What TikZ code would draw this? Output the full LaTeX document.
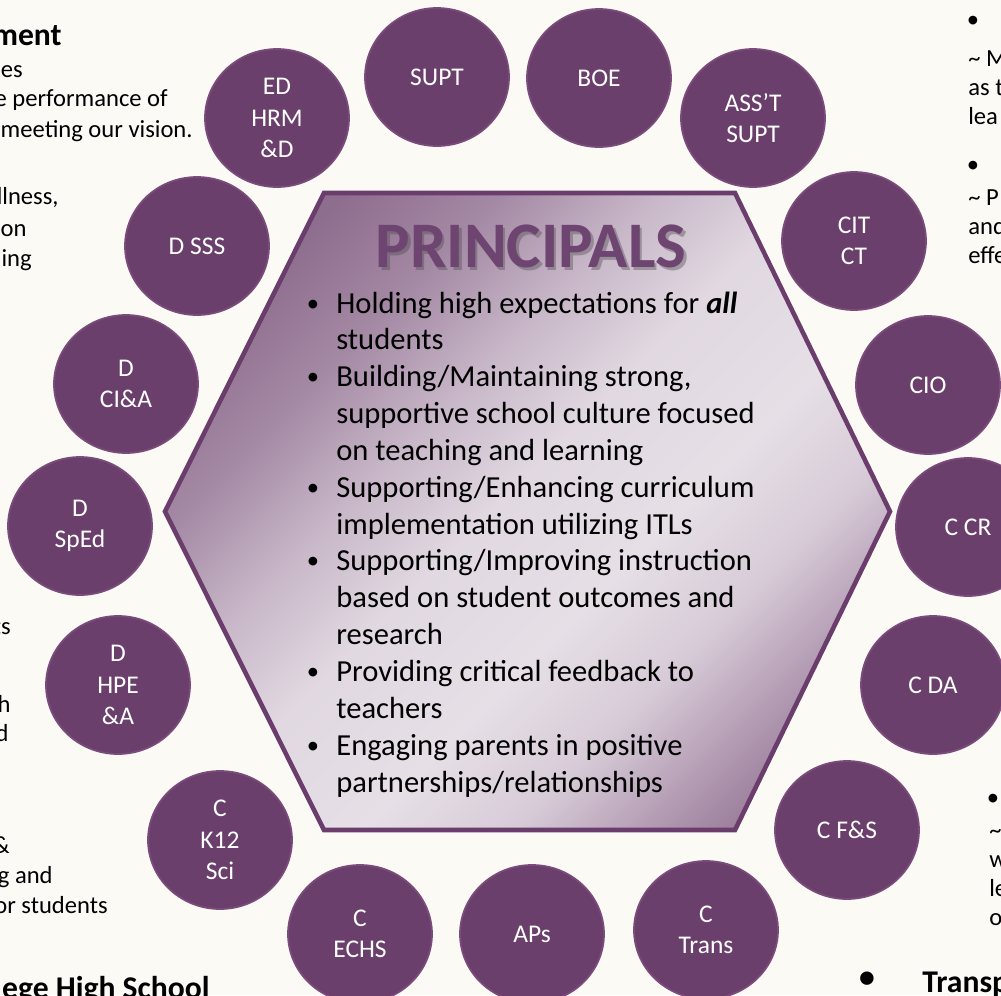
\documentclass[tikz,border=0pt]{standalone}
\usepackage{fontspec}
\setmainfont{Carlito}
\usetikzlibrary{shapes.geometric}

\definecolor{bgcream}{HTML}{FCFAF5}
\definecolor{deptfill}{HTML}{6B3F6C}
\definecolor{deptedge}{HTML}{7A4B7B}
\definecolor{hexedge}{HTML}{6A3D6C}
\definecolor{hexdark}{HTML}{8E6E8E}
\definecolor{hexmid}{HTML}{B29AB2}
\definecolor{hexlight}{HTML}{E6DFE6}
\definecolor{titlepurple}{HTML}{6E4570}

\pgfdeclareverticalshading{hexshade}{100bp}{color(0bp)=(hexdark); color(20bp)=(hexdark); color(27bp)=(hexmid); color(34bp)=(hexlight!70!hexmid); color(42bp)=(hexlight); color(52bp)=(hexlight!90!hexmid); color(60bp)=(hexlight!40!hexmid); color(68bp)=(hexmid!60!hexdark); color(76bp)=(hexdark); color(100bp)=(hexdark)}

\tikzset{
  dept/.style={ellipse, fill=deptfill, draw=deptedge, line width=1pt,
    minimum width=2.88cm, minimum height=2.76cm, inner sep=0pt,
    align=center, text=white, font=\fontsize{14.5}{17.9}\selectfont},
  title/.style={inner sep=0pt, text=titlepurple, font=\fontsize{37}{40}\selectfont\bfseries},
  bodytext/.style={anchor=base west, inner sep=0pt, font=\fontsize{17.4}{20.9}\selectfont},
  dot/.style={anchor=base, inner sep=0pt, font=\fontsize{14}{17}\selectfont},
  sidetext/.style={inner sep=0pt, font=\fontsize{14}{17}\selectfont},
  sidehead/.style={inner sep=0pt, font=\fontsize{18}{21}\selectfont\bfseries},
}

\begin{document}
\begin{tikzpicture}[x=0.02cm, y=-0.02cm]
\useasboundingbox (0,0) rectangle (1001,995);
\clip (0,0) rectangle (1001,995);
\fill[bgcream] (0,0) rectangle (1001,995);

% centre hexagon
\shadedraw[shading=hexshade, shading angle=45, draw=hexedge, line width=2.6pt]
  (324,193) -- (735,193) -- (890,511.5) -- (735,830) -- (324,830) -- (165,511.5) -- cycle;

\node[title, text=black!70, opacity=.4] (titleshadow) at (533.5,249.5) {PRINCIPALS};
\node[title] (title) at (531,246) {PRINCIPALS};

\foreach \txt [count=\i] in {{Holding high expectations for \textbf{\textit{all}}}, students,
    {Building/Maintaining strong,}, supportive school culture focused, on teaching and learning,
    Supporting/Enhancing curriculum, implementation utilizing ITLs,
    Supporting/Improving instruction, based on student outcomes and, research,
    Providing critical feedback to, teachers,
    Engaging parents in positive, partnerships/relationships}
  \node[bodytext] (line\i) at (336, {313+(\i-1)*36.85}) {\txt};
\foreach \i in {1,3,6,8,11,13}
  \node[dot] (dot\i) at (313, {311+(\i-1)*36.85}) {\textbullet};

% ring of departments
\node[dept] (supt) at (437,77) {SUPT};
\node[dept] (boe) at (599,78) {BOE};
\node[dept] (asst) at (753,118) {ASS’T\\SUPT};
\node[dept] (citct) at (854,241) {CIT\\CT};
\node[dept] (cio) at (928,385) {CIO};
\node[dept] (ccr) at (968,527) {C CR};
\node[dept] (cda) at (933,685) {C DA};
\node[dept] (cfs) at (847,830) {C F\&S};
\node[dept] (ctrans) at (706,930) {C\\Trans};
\node[dept] (aps) at (532,934) {APs};
\node[dept] (cechs) at (360,934) {C\\ECHS};
\node[dept] (ck12) at (220,840) {C\\K12\\Sci};
\node[dept] (dhpe) at (118,685) {D\\HPE\\\&A};
\node[dept] (dsped) at (80,526) {D\\SpEd};
\node[dept] (dcia) at (126,384) {D\\CI\&A};
\node[dept] (dsss) at (197,246) {D SSS};
\node[dept] (edhrm) at (277,118) {ED\\HRM\\\&D};

% text running off the left edge
\node[sidehead, anchor=base east] (lhead) at (62,45) {ment};
\node[sidetext, anchor=base east] (l1) at (23,77) {ces};
\node[sidetext, anchor=base east] (l2) at (168,106) {e performance of};
\node[sidetext, anchor=base east] (l3) at (193,137) {meeting our vision.};
\node[sidetext, anchor=base east] (l4) at (59,204) {llness,};
\node[sidetext, anchor=base east] (l5) at (27,236) {ion};
\node[sidetext, anchor=base east] (l6) at (32,266) {ing};
\node[sidetext, anchor=base east] (l7) at (11,634) {ts};
\node[sidetext, anchor=base east] (l8) at (11,712) {h};
\node[sidetext, anchor=base east] (l9) at (9,741) {d};
\node[sidetext, anchor=base east] (l10) at (10,853) {\&};
\node[sidetext, anchor=base east] (l11) at (53,883) {g and};
\node[sidetext, anchor=base east] (l12) at (108,913) {or students};
\node[sidehead, anchor=base east] (lfoot) at (210,998) {ege High School};

% text running off the right edge
\node[sidetext] (rdot1) at (973,22) {\textbullet};
\node[sidetext, anchor=base west] (r1) at (968,66) {\textasciitilde{} M};
\node[sidetext, anchor=base west] (r2) at (968,95) {as t};
\node[sidetext, anchor=base west] (r3) at (968,124) {lea};
\node[sidetext] (rdot2) at (973,167) {\textbullet};
\node[sidetext, anchor=base west] (r4) at (968,205) {\textasciitilde{} P};
\node[sidetext, anchor=base west] (r5) at (968,234) {and};
\node[sidetext, anchor=base west] (r6) at (968,263) {effe};
\node[sidetext] (rdot3) at (993,800) {\textbullet};
\node[sidetext, anchor=base west] (r7) at (989,838) {\textasciitilde};
\node[sidetext, anchor=base west] (r8) at (989,867) {w};
\node[sidetext, anchor=base west] (r9) at (989,896) {le};
\node[sidetext, anchor=base west] (r10) at (989,925) {o};
\node[sidehead] (rdot4) at (867,980) {\textbullet};
\node[sidehead, anchor=base west] (rfoot) at (922,992) {Transp};
\end{tikzpicture}
\end{document}
